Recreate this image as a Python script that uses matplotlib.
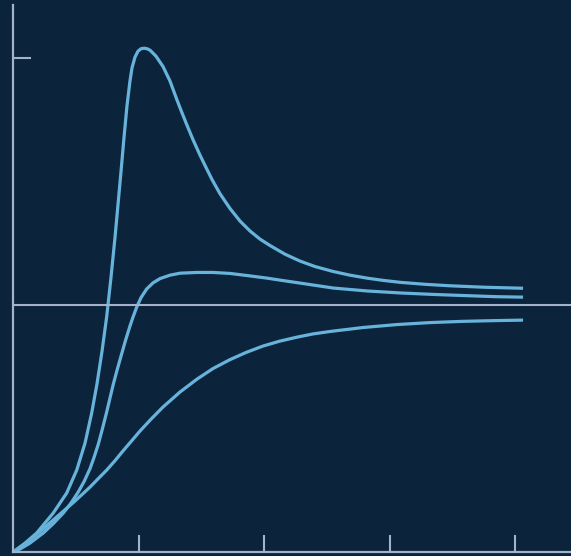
import matplotlib
matplotlib.use("Agg")
import matplotlib.pyplot as plt

# response curves, time in units of the tick spacing, output normalised to the final level
t_fast = [0.0, 0.096, 0.189, 0.321, 0.428, 0.508, 0.574, 0.627, 0.669, 0.709, 0.747,
          0.781, 0.813, 0.837, 0.861, 0.884, 0.908, 0.932, 0.948, 0.972, 0.996, 1.020,
          1.044, 1.068, 1.092, 1.139, 1.195, 1.251, 1.304, 1.343, 1.384, 1.434, 1.490,
          1.538, 1.586, 1.649, 1.729, 1.809, 1.888, 1.968, 2.048, 2.167, 2.287, 2.406,
          2.550, 2.685, 2.821, 2.948, 3.084, 3.283, 3.482, 3.761, 4.064]
y_fast = [0.0, 0.036, 0.077, 0.158, 0.239, 0.332, 0.441, 0.563, 0.680, 0.812, 0.955,
          1.113, 1.275, 1.409, 1.543, 1.676, 1.806, 1.907, 1.960, 2.004, 2.028, 2.038,
          2.040, 2.038, 2.032, 2.008, 1.966, 1.907, 1.834, 1.783, 1.731, 1.670, 1.607,
          1.557, 1.508, 1.451, 1.391, 1.340, 1.300, 1.267, 1.241, 1.206, 1.178, 1.156,
          1.136, 1.121, 1.109, 1.100, 1.092, 1.084, 1.078, 1.072, 1.068]

t_mid = [0.0, 0.056, 0.135, 0.241, 0.319, 0.401, 0.462, 0.520, 0.566, 0.614, 0.645,
         0.680, 0.713, 0.747, 0.773, 0.799, 0.829, 0.861, 0.896, 0.932, 0.956, 0.986,
         1.020, 1.065, 1.116, 1.171, 1.251, 1.331, 1.464, 1.594, 1.729, 1.888, 2.024,
         2.127, 2.287, 2.550, 2.821, 3.084, 3.347, 3.618, 3.841, 4.064]
y_mid = [0.0, 0.012, 0.036, 0.077, 0.114, 0.158, 0.198, 0.243, 0.285, 0.338, 0.382,
         0.437, 0.500, 0.568, 0.624, 0.679, 0.736, 0.794, 0.856, 0.915, 0.951, 0.992,
         1.030, 1.065, 1.090, 1.107, 1.121, 1.129, 1.132, 1.132, 1.128, 1.118, 1.109,
         1.101, 1.089, 1.069, 1.057, 1.049, 1.043, 1.038, 1.034, 1.032]

t_slow = [0.0, 0.029, 0.096, 0.162, 0.239, 0.321, 0.398, 0.480, 0.542, 0.614, 0.677,
          0.747, 0.813, 0.876, 0.940, 1.012, 1.100, 1.195, 1.331, 1.466, 1.594, 1.729,
          1.857, 1.992, 2.127, 2.263, 2.390, 2.526, 2.789, 3.060, 3.323, 3.586, 3.841,
          4.064]
y_slow = [0.0, 0.008, 0.034, 0.061, 0.093, 0.130, 0.164, 0.200, 0.229, 0.263, 0.296,
          0.332, 0.370, 0.409, 0.447, 0.490, 0.538, 0.587, 0.648, 0.700, 0.743, 0.779,
          0.808, 0.834, 0.854, 0.870, 0.883, 0.893, 0.909, 0.921, 0.929, 0.934, 0.937,
          0.939]

x_ticks = [1, 2, 3, 4]
y_ticks = [2]
final_level = 1.0

bg = "#0b243b"
curve = "#68b3db"
axis_col = "#a3b3ca"

fig = plt.figure(figsize=(5.71, 5.56), dpi=100, facecolor=bg)
ax = fig.add_axes([13 / 571, 4 / 556, 558 / 571, 547 / 556])
ax.set_facecolor(bg)

for t, y in [(t_fast, y_fast), (t_mid, y_mid), (t_slow, y_slow)]:
    ax.plot(t, y, color=curve, lw=2.3, solid_capstyle="butt", solid_joinstyle="round")

ax.axhline(final_level, color=axis_col, lw=1.5)

ax.set_xlim(0, 4.446)
ax.set_ylim(0, 2.215)

for side in ["top", "right"]:
    ax.spines[side].set_visible(False)
for side in ["left", "bottom"]:
    ax.spines[side].set_color(axis_col)
    ax.spines[side].set_linewidth(1.6)

ax.set_xticks(x_ticks)
ax.set_yticks(y_ticks)
ax.set_xticklabels([])
ax.set_yticklabels([])
ax.tick_params(axis="x", direction="in", length=12.5, width=1.5, color=axis_col)
ax.tick_params(axis="y", direction="in", length=13, width=1.5, color=axis_col)

fig.savefig("out.png", dpi=100, facecolor=bg)
